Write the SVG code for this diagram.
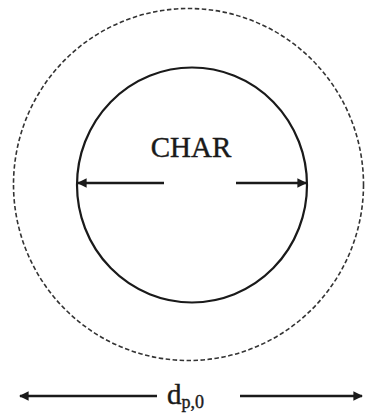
<svg xmlns="http://www.w3.org/2000/svg" width="365" height="414" viewBox="0 0 365 414">
<style>
.ln{stroke:#1a1a1a;stroke-width:2.4;fill:none}
.txt{font-family:"Liberation Serif",serif;fill:#1a1a1a;stroke:#1a1a1a;stroke-width:0.4}
</style>
<defs>
<marker id="ah" viewBox="0 0 10 10" refX="9" refY="5" markerWidth="4" markerHeight="4" orient="auto-start-reverse" markerUnits="strokeWidth">
<path d="M0,0 L10,5 L0,10 z" fill="#1a1a1a"/>
</marker>
</defs>
<rect width="365" height="414" fill="#ffffff"/>
<g id="outer">
<ellipse cx="188.5" cy="184.5" rx="175" ry="176" fill="none" stroke="#333" stroke-width="1.6" stroke-dasharray="4.5,2.5"/>
</g>
<g id="char">
<ellipse cx="192" cy="185" rx="115" ry="117.5" fill="none" stroke="#1a1a1a" stroke-width="2.2"/>
<text class="txt" x="191" y="157" font-size="29" text-anchor="middle">CHAR</text>
</g>
<g id="connectors">
<line class="ln" x1="164" y1="183" x2="78" y2="183" marker-end="url(#ah)"/>
<line class="ln" x1="236" y1="183" x2="306" y2="183" marker-end="url(#ah)"/>
<line class="ln" x1="157" y1="396" x2="20" y2="396" marker-end="url(#ah)"/>
<line class="ln" x1="240" y1="396" x2="362" y2="396" marker-end="url(#ah)"/>
</g>
<g id="label">
<text class="txt" x="167" y="404" font-size="29">d<tspan font-size="18" dy="4">p,0</tspan></text>
</g>
</svg>
